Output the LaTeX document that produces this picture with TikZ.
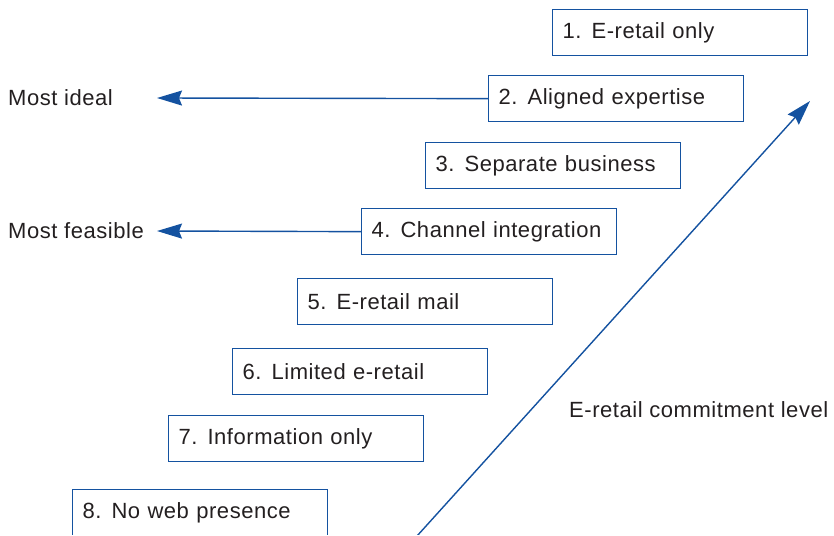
\documentclass[tikz,border=0pt]{standalone}
\usepackage{fontspec}
\setmainfont{Liberation Sans}[LetterSpace=2.5]
\usetikzlibrary{arrows.meta}
\definecolor{cblue}{RGB}{20,82,160}
\definecolor{ctext}{RGB}{35,31,32}
\begin{document}
\begin{tikzpicture}[x=1pt,y=1pt,
  every node/.style={font=\fontsize{22}{24}\selectfont, text=ctext},
  stepbox/.style={draw=cblue, line width=1.3pt, anchor=north west,
    minimum width=255pt, minimum height=46pt, inner xsep=10pt, inner ysep=0pt,
    text width=235pt, align=left},
  plain/.style={anchor=west, inner sep=0pt},
  conn/.style={draw=cblue, line width=1.4pt, -{Stealth[length=25pt,width=15pt,inset=3pt]}}]
\useasboundingbox (0,-535) rectangle (834,0);
\clip (0,-534.2) rectangle (834,0);
\newcommand{\numgap}{\hspace{10pt}}
\node[stepbox] (b1) at (552,-9)   {1.\numgap E-retail only};
\node[stepbox] (b2) at (488,-75)  {2.\numgap Aligned expertise};
\node[stepbox] (b3) at (425,-142) {3.\numgap Separate business};
\node[stepbox] (b4) at (361,-208) {4.\numgap Channel integration};
\node[stepbox] (b5) at (297,-278) {5.\numgap E-retail mail};
\node[stepbox] (b6) at (232,-348) {6.\numgap Limited e-retail};
\node[stepbox] (b7) at (168,-415) {7.\numgap Information only};
\node[stepbox] (b8) at (72,-489)  {8.\numgap No web presence};
\node[plain] (ideal) at (8,-98) {Most ideal};
\node[plain] (feas) at (8,-231) {Most feasible};
\node[plain] (level) at (569,-410) {E-retail commitment level};
\coordinate (t1) at (157,-98);
\coordinate (t2) at (157,-231);
\coordinate (ds) at (417,-536);
\coordinate (de) at (810,-101);
\draw[conn] (b2.west) -- (t1);
\draw[conn] (b4.west) -- (t2);
\draw[conn] (ds) -- (de);
\end{tikzpicture}
\end{document}
